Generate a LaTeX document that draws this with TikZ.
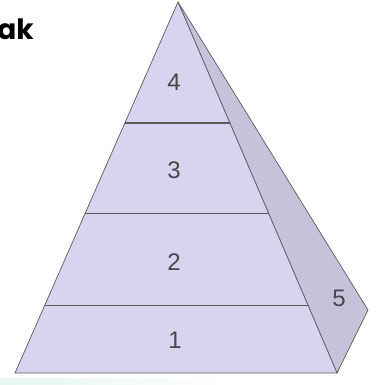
\documentclass[tikz,border=0pt]{standalone}
\usepackage{fontspec}
\setmainfont{Liberation Sans}
\newfontfamily\titlefont{Poppins}
\usetikzlibrary{calc}
\definecolor{frontface}{HTML}{D6D4EF}
\definecolor{sideface}{HTML}{C4C3DA}
\definecolor{edgegray}{HTML}{5A5A5A}
\definecolor{mint}{HTML}{E6F6F0}

\begin{document}
\begin{tikzpicture}[x=1pt,y=-1pt, every node/.style={font=\fontsize{24}{26}\selectfont, text=edgegray!80!black}]
    \useasboundingbox (0,0) rectangle (380,385);
    % faint glow at the bottom
    \shade[left color=mint, right color=white] (0,378) rectangle (230,385);
    \coordinate (apex) at (178,2);
    \coordinate (bl) at (15,373);
    \coordinate (br) at (337,373);
    \coordinate (sr) at (368,310);
    % faces
    \draw[fill=sideface, draw=edgegray, line width=0.7pt] (apex) -- (sr) -- (br) -- cycle;
    \draw[fill=frontface, draw=edgegray, line width=0.7pt] (apex) -- (bl) -- (br) -- cycle;
    % level lines
    \coordinate (l1) at ($(apex)!0.817!(bl)$);
    \coordinate (r1) at ($(apex)!0.817!(br)$);
    \coordinate (l2) at ($(apex)!0.571!(bl)$);
    \coordinate (r2) at ($(apex)!0.571!(br)$);
    \coordinate (l3) at ($(apex)!0.326!(bl)$);
    \coordinate (r3) at ($(apex)!0.326!(br)$);
    \draw[edgegray, line width=1.2pt] (l1) -- (r1);
    \draw[edgegray, line width=1.2pt] (l2) -- (r2);
    \draw[edgegray, line width=1.2pt] (l3) -- (r3);
    % labels
    \node (n4) at (174,82) {4};
    \node (n3) at (174,170) {3};
    \node (n2) at (174,262) {2};
    \node (n1) at (175,340) {1};
    \node (n5) at (339,298) {5};
    \node[anchor=base east, inner sep=0pt, text=black, font=\titlefont\bfseries\fontsize{28}{30}\selectfont] (title) at (34,40) {ak};
\end{tikzpicture}
\end{document}
